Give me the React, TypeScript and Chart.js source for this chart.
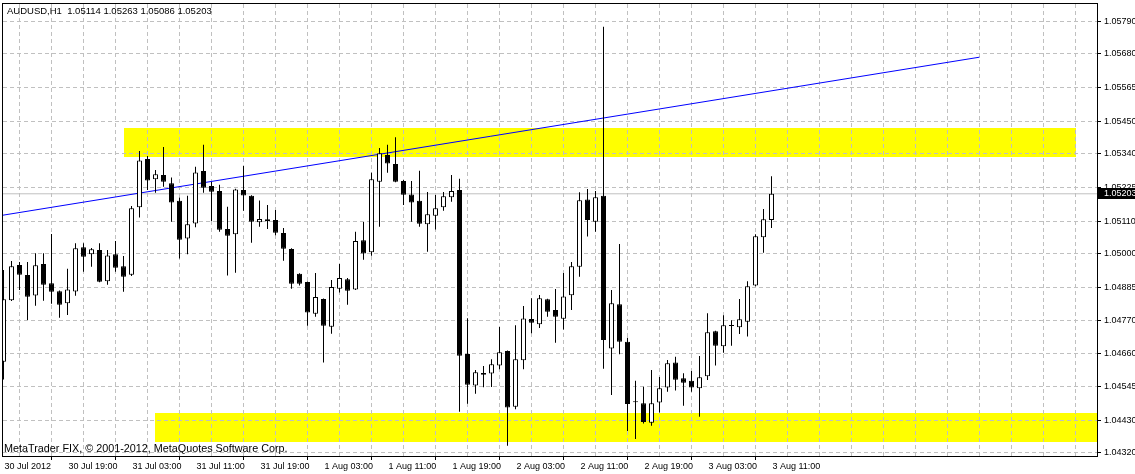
import { useEffect, useRef } from "react";
import { Chart, registerables } from "chart.js";

Chart.register(...registerables);

const symbolName = "AUDUSD,H1";
const copyrightText = "MetaTrader FIX, \u00a9 2001-2012, MetaQuotes Software Corp.";

// H1 candles from 30 Jul 2012 11:00 to 3 Aug 2012 11:00
const opens = [
  1.0463, 1.0484, 1.0496, 1.04926, 1.04856, 1.04964, 1.04898, 1.04871, 1.0483, 1.0487,
  1.05021, 1.04997, 1.05011, 1.04905, 1.04997, 1.04956, 1.04927, 1.05157, 1.05322, 1.05253,
  1.05267, 1.05239, 1.05179, 1.05051, 1.05102, 1.05281, 1.0523, 1.05213, 1.05083, 1.05065,
  1.05216, 1.05196, 1.05106, 1.05109, 1.05114, 1.05069, 1.05015, 1.0493, 1.04902, 1.04794,
  1.04844, 1.0475, 1.04879, 1.04912, 1.04877, 1.05045, 1.05004, 1.05244, 1.05335, 1.05305,
  1.05247, 1.05201, 1.05179, 1.05099, 1.05128, 1.05157, 1.05191, 1.05216, 1.04657, 1.04549,
  1.04592, 1.0459, 1.04617, 1.04667, 1.04477, 1.04635, 1.04776, 1.04758, 1.04843, 1.04807,
  1.04777, 1.04857, 1.04954, 1.05184, 1.05108, 1.05196, 1.04675, 1.04826, 1.04698, 1.04492,
  1.04489, 1.04422, 1.04491, 1.04542, 1.04628, 1.04574, 1.04565, 1.0454, 1.04581, 1.04734,
  1.04683, 1.04752, 1.04748, 1.04767, 1.0489, 1.05055, 1.05114,
];
const highs = [
  1.04943, 1.04974, 1.0497, 1.0497, 1.05, 1.05, 1.05066, 1.04873, 1.04947, 1.05034,
  1.05034, 1.05018, 1.05034, 1.05011, 1.05042, 1.04991, 1.05161, 1.05349, 1.05332, 1.05284,
  1.05363, 1.05259, 1.0519, 1.05196, 1.05295, 1.0537, 1.05243, 1.05234, 1.05159, 1.0522,
  1.05298, 1.05198, 1.0518, 1.05165, 1.05148, 1.05086, 1.05017, 1.04932, 1.04904, 1.04933,
  1.04846, 1.04909, 1.04964, 1.04916, 1.05074, 1.05107, 1.05275, 1.05359, 1.0537, 1.05396,
  1.0525, 1.05247, 1.05282, 1.05209, 1.05199, 1.05209, 1.05267, 1.05254, 1.04779, 1.04602,
  1.04616, 1.04639, 1.04749, 1.04669, 1.04755, 1.0482, 1.04847, 1.04858, 1.04845, 1.04878,
  1.04933, 1.0497, 1.05208, 1.05219, 1.05213, 1.05773, 1.04875, 1.05032, 1.04712, 1.04565,
  1.04545, 1.04602, 1.04578, 1.04636, 1.04647, 1.04591, 1.04599, 1.0465, 1.04796, 1.04736,
  1.04789, 1.04772, 1.04844, 1.04905, 1.05065, 1.05151, 1.05263,
];
const lows = [
  1.0457, 1.04837, 1.04875, 1.04773, 1.04821, 1.04838, 1.04828, 1.0478, 1.0479, 1.04855,
  1.04937, 1.04954, 1.04901, 1.04893, 1.04937, 1.04869, 1.04923, 1.05122, 1.05216, 1.05207,
  1.05227, 1.05108, 1.04982, 1.04997, 1.05089, 1.05207, 1.0511, 1.05074, 1.04924, 1.04934,
  1.05145, 1.05036, 1.05091, 1.05083, 1.05062, 1.04975, 1.04879, 1.0489, 1.04753, 1.04784,
  1.04628, 1.04726, 1.04866, 1.04825, 1.04875, 1.04978, 1.04992, 1.05091, 1.05275, 1.05242,
  1.05165, 1.05108, 1.05091, 1.05005, 1.05081, 1.05145, 1.05176, 1.0446, 1.04487, 1.04521,
  1.04543, 1.04544, 1.04605, 1.04344, 1.04468, 1.04605, 1.04727, 1.04745, 1.04784, 1.04695,
  1.0474, 1.04807, 1.0492, 1.05057, 1.05074, 1.04606, 1.04517, 1.04656, 1.04394, 1.04367,
  1.0442, 1.04412, 1.04457, 1.04528, 1.04532, 1.0448, 1.04528, 1.04443, 1.04568, 1.04617,
  1.04661, 1.04685, 1.04725, 1.04716, 1.04888, 1.05002, 1.05086,
];
const closes = [
  1.04843, 1.04956, 1.04927, 1.04852, 1.04959, 1.04893, 1.04869, 1.04825, 1.04877, 1.05017,
  1.04988, 1.05014, 1.04903, 1.04993, 1.04951, 1.0492, 1.05154, 1.05317, 1.05248, 1.0527,
  1.05244, 1.05173, 1.05046, 1.05099, 1.05276, 1.05224, 1.0521, 1.0508, 1.0506, 1.05218,
  1.05197, 1.05108, 1.05117, 1.05116, 1.0507, 1.05016, 1.04896, 1.04896, 1.04798, 1.04851,
  1.04753, 1.04885, 1.04916, 1.04872, 1.05042, 1.04999, 1.05253, 1.05341, 1.05306, 1.05244,
  1.052, 1.05173, 1.05101, 1.05133, 1.05154, 1.05195, 1.05213, 1.04651, 1.04552, 1.04594,
  1.04586, 1.04622, 1.04663, 1.04474, 1.04639, 1.04778, 1.04763, 1.04847, 1.04801, 1.04784,
  1.04853, 1.04956, 1.05181, 1.05114, 1.05191, 1.04704, 1.0483, 1.04698, 1.04486, 1.04492,
  1.04425, 1.04489, 1.0454, 1.04625, 1.04569, 1.04559, 1.04542, 1.04577, 1.04731, 1.04685,
  1.04755, 1.04752, 1.04775, 1.04888, 1.05058, 1.05116, 1.05203,
];

// one label every 8 bars
const timeLabels = [
  "30 Jul 2012", "30 Jul 19:00", "31 Jul 03:00", "31 Jul 11:00", "31 Jul 19:00",
  "1 Aug 03:00", "1 Aug 11:00", "1 Aug 19:00", "2 Aug 03:00", "2 Aug 11:00",
  "2 Aug 19:00", "3 Aug 03:00", "3 Aug 11:00",
];
const priceTicks = [
  "1.04320", "1.04430", "1.04545", "1.04660", "1.04770", "1.04885", "1.05000",
  "1.05110", "1.05225", "1.05340", "1.05450", "1.05565", "1.05680", "1.05790",
];

const bidPrice = 1.05203;

// yellow rectangles (bar index / price)
const zoneStart = [15, 19];
const zoneEnd = [134, 140];
const zoneHigh = [1.05427, 1.04454];
const zoneLow = [1.0533, 1.04358];

// blue trend line
const trendIdx = [-1, 122];
const trendPrice = [1.05126, 1.05669];

const X_MIN = -0.0625;
const X_MAX = 136.6875;
const Y_MIN = 1.0430876;
const Y_MAX = 1.0585037;

const FONT = '"Liberation Sans", Arial, sans-serif';

export default function App() {
  const ref = useRef<HTMLCanvasElement | null>(null);

  useEffect(() => {
    document.body.style.margin = "0";
    const canvas = ref.current;
    if (!canvas) return;

    const idx = opens.map((_, i) => i);
    const up = opens.map((o, i) => closes[i] >= o);
    const gridIdx: number[] = [];
    for (let v = 0; v <= 136; v += 4) gridIdx.push(v);

    const overlay = {
      id: "mtOverlay",
      beforeDraw(chart: any) {
        const { ctx, chartArea } = chart;
        const xs = chart.scales.x;
        const ys = chart.scales.y;
        ctx.save();
        ctx.fillStyle = "#ffffff";
        ctx.fillRect(0, 0, chart.width, chart.height);
        ctx.beginPath();
        ctx.rect(chartArea.left, chartArea.top, chartArea.right - chartArea.left, chartArea.bottom - chartArea.top);
        ctx.clip();
        ctx.fillStyle = "#ffff00";
        for (let k = 0; k < zoneStart.length; k++) {
          const x1 = Math.round(xs.getPixelForValue(zoneStart[k]));
          const x2 = Math.round(xs.getPixelForValue(zoneEnd[k]));
          const y1 = Math.round(ys.getPixelForValue(zoneHigh[k]));
          const y2 = Math.round(ys.getPixelForValue(zoneLow[k]));
          ctx.fillRect(x1, y1, x2 - x1, y2 - y1);
        }
        ctx.restore();
      },
      afterDraw(chart: any) {
        const { ctx, chartArea } = chart;
        const ys = chart.scales.y;
        ctx.save();
        // frame
        ctx.strokeStyle = "#000000";
        ctx.lineWidth = 1;
        ctx.strokeRect(
          chartArea.left - 0.5,
          chartArea.top - 0.5,
          chartArea.right - chartArea.left + 1,
          chartArea.bottom - chartArea.top + 1
        );
        // title
        const last = opens.length - 1;
        const title =
          symbolName + "  " +
          [opens[last], highs[last], lows[last], closes[last]].map((v) => v.toFixed(5)).join(" ");
        ctx.fillStyle = "#000000";
        ctx.textBaseline = "middle";
        ctx.textAlign = "left";
        ctx.font = "9.5px " + FONT;
        ctx.fillText(title, 7, 11);
        // footer
        ctx.font = "10.8px " + FONT;
        ctx.fillText(copyrightText, 4, 449.5);
        // bid price box
        const by = Math.round(ys.getPixelForValue(bidPrice));
        ctx.fillStyle = "#000000";
        ctx.fillRect(chartArea.right + 1, by - 6, chart.width - chartArea.right - 1, 11);
        ctx.fillStyle = "#ffffff";
        ctx.font = "9px " + FONT;
        ctx.fillText(bidPrice.toFixed(5), chartArea.right + 7, by);
        ctx.restore();
      },
    };

    const chart = new Chart(canvas, {
      type: "bar",
      data: {
        datasets: [
          {
            type: "bar",
            label: "bodies",
            data: idx.map((i) => ({ x: i, y: [opens[i], closes[i]] })) as any,
            backgroundColor: up.map((u) => (u ? "#ffffff" : "#000000")),
            borderColor: "#000000",
            borderWidth: 1,
            borderSkipped: false,
            barThickness: 5,
            grouped: false,
            minBarLength: 1,
            inflateAmount: 0,
            order: 0,
          } as any,
          {
            type: "bar",
            label: "wicks",
            data: idx.map((i) => ({ x: i, y: [lows[i], highs[i]] })) as any,
            backgroundColor: "#000000",
            borderWidth: 0,
            barThickness: 1,
            grouped: false,
            inflateAmount: 0,
            order: 1,
          } as any,
          {
            type: "line",
            label: "trend",
            data: trendIdx.map((x, k) => ({ x, y: trendPrice[k] })) as any,
            borderColor: "#0000ff",
            borderWidth: 1,
            pointRadius: 0,
            order: 2,
          } as any,
          {
            type: "line",
            label: "bid",
            data: [
              { x: -1, y: bidPrice },
              { x: 140, y: bidPrice },
            ] as any,
            borderColor: "#c0c0c0",
            borderWidth: 1,
            pointRadius: 0,
            order: 3,
          } as any,
        ],
      },
      options: {
        animation: false,
        responsive: false,
        devicePixelRatio: 1,
        events: [],
        layout: { padding: { left: 3, top: 4, right: 0, bottom: 0 } },
        plugins: {
          legend: { display: false },
          tooltip: { enabled: false },
          title: { display: false },
        },
        scales: {
          x: {
            type: "linear",
            min: X_MIN,
            max: X_MAX,
            offset: false,
            afterBuildTicks: (s: any) => {
              s.ticks = gridIdx.map((v) => ({ value: v }));
            },
            afterFit: (s: any) => {
              s.height = 18;
              s.paddingLeft = 0;
              s.paddingRight = 0;
            },
            grid: {
              color: "#c0c0c0",
              lineWidth: 1,
              drawTicks: true,
              tickLength: 4,
              tickBorderDash: [],
              tickColor: (c: any) =>
                c.tick && c.tick.value % 8 === 0 && c.tick.value / 8 < timeLabels.length
                  ? "#000000"
                  : "rgba(0,0,0,0)",
            },
            border: { display: false, dash: [4, 3] },
            ticks: {
              autoSkip: false,
              maxRotation: 0,
              minRotation: 0,
              align: "start",
              labelOffset: 1,
              padding: 1,
              color: "#000000",
              font: { family: FONT, size: 9 },
              callback: (v: any) => {
                const n = Number(v);
                return n % 8 === 0 && n / 8 < timeLabels.length ? timeLabels[n / 8] : "";
              },
            },
          } as any,
          y: {
            type: "linear",
            position: "right",
            min: Y_MIN,
            max: Y_MAX,
            afterBuildTicks: (s: any) => {
              s.ticks = priceTicks.map((t) => ({ value: parseFloat(t) }));
            },
            afterFit: (s: any) => {
              s.width = 38;
              s.paddingTop = 0;
              s.paddingBottom = 0;
            },
            grid: {
              color: "#c0c0c0",
              lineWidth: 1,
              drawTicks: true,
              tickLength: 4,
              tickBorderDash: [],
              tickColor: "#000000",
            },
            border: { display: false, dash: [4, 3] },
            ticks: {
              padding: 3,
              color: "#000000",
              font: { family: FONT, size: 9 },
              callback: (v: any) => Number(v).toFixed(5),
            },
          } as any,
        },
      },
      plugins: [overlay as any],
    });

    return () => chart.destroy();
  }, []);

  return <canvas ref={ref} width={1135} height={474} style={{ display: "block" }} />;
}
